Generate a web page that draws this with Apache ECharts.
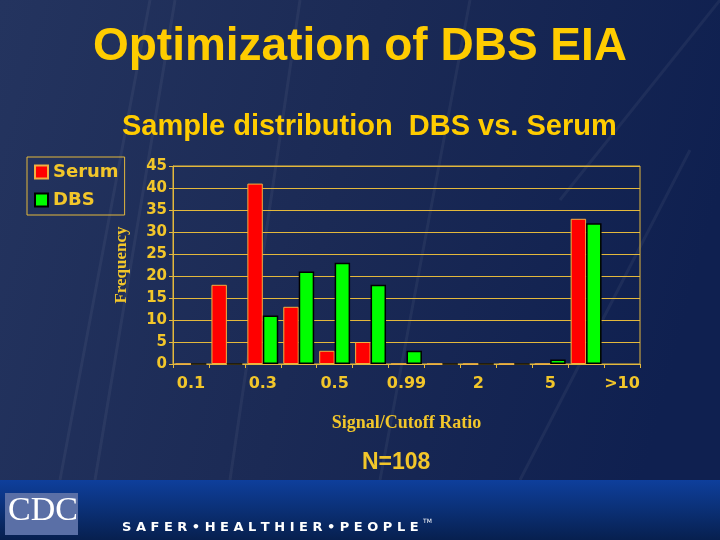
<!DOCTYPE html>
<html>
<head>
<meta charset="utf-8">
<script src="https://cdn.jsdelivr.net/npm/echarts@6/dist/echarts.min.js"></script>
<style>
  html, body { margin: 0; padding: 0; background: #1d2b55; }
  #chart { width: 720px; height: 540px; }
</style>
</head>
<body>
<div id="chart"></div>
<script>
// bins of the signal/cutoff ratio, only every other one is labelled
const binLabels = ["0.1", "", "0.3", "", "0.5", "", "0.99", "", "2", "", "5", "", ">10"];
const serumCounts = [0, 18, 41, 13, 3, 5, 0, 0, 0, 0, 0, 33, "-"];
const dbsCounts = [0, 0, 11, 21, 23, 18, 3, 0, 0, 0, 1, 32, "-"];
const yMin = 0;
const yMax = 45;
const yStep = 5;

const yellow = "#f2c62a";
const lineYellow = "#e3b83c";

let myChart = echarts.init(document.getElementById("chart"));

// faint diagonal streaks on the slide background
let streaks = [
  [150, 0, 60, 480], [175, 0, 95, 480], [300, 0, 230, 480],
  [720, 0, 560, 200], [690, 150, 520, 480], [470, 0, 380, 480]
].map((s) => ({
  type: "line",
  z: -9,
  silent: true,
  shape: { x1: s[0], y1: s[1], x2: s[2], y2: s[3] },
  style: { stroke: "rgba(255,255,255,0.05)", lineWidth: 3 },
}));

myChart.setOption({
  animation: false,
  title: [
    {
      text: "Optimization of DBS EIA",
      left: "center",
      top: 19,
      textStyle: {
        color: "#ffcc00",
        fontFamily: "Liberation Sans",
        fontWeight: "bold",
        fontSize: 46,
      },
    },
    {
      text: "Sample distribution  DBS vs. Serum",
      left: 117,
      top: 107,
      textStyle: {
        color: "#ffcc00",
        fontFamily: "Liberation Sans",
        fontWeight: "bold",
        fontSize: 29,
      },
    },
  ],
  legend: {
    orient: "vertical",
    left: 27,
    top: 157,
    padding: [6, 6, 6, 7],
    itemGap: 10,
    itemWidth: 13,
    itemHeight: 13,
    icon: "rect",
    borderColor: lineYellow,
    borderWidth: 1,
    data: ["Serum", "DBS"],
    textStyle: {
      color: yellow,
      fontFamily: "DejaVu Sans",
      fontWeight: "bold",
      fontSize: 18,
    },
  },
  // plot height 198 so every 5-step gridline falls on a whole pixel
  grid: {
    left: 173,
    top: 166,
    right: 80,
    bottom: 176,
    show: true,
    borderColor: lineYellow,
    borderWidth: 1,
    backgroundColor: "transparent",
  },
  xAxis: {
    type: "category",
    data: binLabels.map((l, i) => "bin" + i),
    name: "Signal/Cutoff Ratio",
    nameLocation: "middle",
    nameGap: 50,
    nameTextStyle: {
      color: yellow,
      fontFamily: "Liberation Serif",
      fontWeight: "bold",
      fontSize: 18,
    },
    axisLine: { lineStyle: { color: lineYellow, width: 1 } },
    axisTick: { show: true, interval: 0, length: 4, lineStyle: { color: lineYellow } },
    axisLabel: {
      interval: 0,
      margin: 12,
      color: yellow,
      fontFamily: "DejaVu Sans",
      fontWeight: "bold",
      fontSize: 16,
      formatter: (v, i) => binLabels[i],
    },
  },
  yAxis: {
    type: "value",
    min: yMin,
    max: yMax,
    interval: yStep,
    name: "Frequency",
    nameLocation: "middle",
    nameGap: 43,
    nameTextStyle: {
      color: yellow,
      fontFamily: "Liberation Serif",
      fontWeight: "bold",
      fontSize: 17,
    },
    axisLine: { show: true, lineStyle: { color: lineYellow, width: 1 } },
    axisTick: { show: true, length: 4, lineStyle: { color: lineYellow } },
    axisLabel: {
      margin: 6,
      color: yellow,
      fontFamily: "DejaVu Sans",
      fontWeight: "bold",
      fontSize: 15,
    },
    splitLine: { show: true, lineStyle: { color: [lineYellow], width: 1, opacity: 1 } },
  },
  series: [
    {
      name: "Serum",
      type: "bar",
      barGap: "0%",
      barCategoryGap: "14%",
      itemStyle: { color: "#ff0000", borderColor: "#f0b040", borderWidth: 1 },
      data: serumCounts,
    },
    {
      name: "DBS",
      type: "bar",
      barGap: "0%",
      barCategoryGap: "14%",
      itemStyle: { color: "#00ff00", borderColor: "#000000", borderWidth: 1.5 },
      data: dbsCounts,
    },
  ],
  graphic: [
    {
      type: "rect",
      z: -10,
      silent: true,
      shape: { x: 0, y: 0, width: 720, height: 480 },
      style: {
        fill: {
          type: "linear", x: 0, y: 0, x2: 1, y2: 0.4,
          colorStops: [
            { offset: 0, color: "#24345f" },
            { offset: 0.5, color: "#1b2a55" },
            { offset: 1, color: "#0f2050" },
          ],
        },
      },
    },
    ...streaks,
    {
      type: "text",
      left: 362,
      top: 451,
      style: {
        text: "N=108",
        fill: yellow,
        font: "bold 23px 'Liberation Sans'",
      },
    },
    // footer band
    {
      type: "rect",
      z: -8,
      silent: true,
      shape: { x: 0, y: 480, width: 720, height: 60 },
      style: {
        fill: {
          type: "linear", x: 0, y: 0, x2: 0, y2: 1,
          colorStops: [
            { offset: 0, color: "#0e3f9c" },
            { offset: 1, color: "#07204f" },
          ],
        },
      },
    },
    {
      type: "rect",
      shape: { x: 5, y: 493, width: 73, height: 42 },
      style: { fill: "#5a6fa6" },
    },
    {
      type: "text",
      left: 8,
      top: 494,
      style: {
        text: "CDC",
        fill: "#ffffff",
        font: "34px 'Liberation Serif'",
      },
    },
    {
      type: "text",
      left: 122,
      top: 521,
      style: {
        text: "S A F E R • H E A L T H I E R • P E O P L E",
        fill: "#ffffff",
        font: "bold 13px 'DejaVu Sans'",
      },
    },
    {
      type: "text",
      left: 423,
      top: 518,
      style: { text: "TM", fill: "#ffffff", font: "6px 'DejaVu Sans'" },
    },
  ],
});
</script>
</body>
</html>
